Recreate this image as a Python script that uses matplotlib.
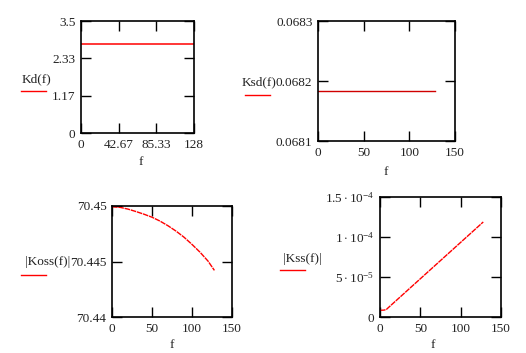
"""Mathcad-style 4 panel plot."""

import matplotlib
matplotlib.use('Agg')
import matplotlib.pyplot as plt
from matplotlib.lines import Line2D

# data
f_const = [0, 128]
kd_vals = [2.78, 2.78]
ksd_vals = [0.068183, 0.068183]

f_koss = [0, 10, 20, 30, 40, 50, 60, 70, 80, 90, 100, 110, 120, 128]
koss_vals = [70.44993, 70.44988, 70.44972, 70.44950, 70.44926, 70.44899,
             70.44864, 70.44822, 70.44774, 70.44719, 70.44654, 70.44584,
             70.44504, 70.44420]

f_kss = [0, 5, 8, 10, 20, 30, 40, 50, 60, 70, 80, 90, 100, 110, 120, 128]
kss_vals = [0.84e-5, 0.86e-5, 0.95e-5, 1.14e-5, 2.05e-5, 2.96e-5, 3.87e-5,
            4.78e-5, 5.69e-5, 6.6e-5, 7.51e-5, 8.42e-5, 9.33e-5, 1.024e-4,
            1.115e-4, 1.188e-4]

kd_xticks = [0, 42.67, 85.33, 128]
kd_yticks = [0, 1.17, 2.33, 3.5]
ksd_yticks = [0.0681, 0.0682, 0.0683]
koss_yticks = [70.44, 70.445, 70.45]
kss_yticks = [0, 5e-5, 1e-4, 1.5e-4]
kss_ylabels = ['0', r'$5\cdot10^{-5}$', r'$1\cdot10^{-4}$',
               r'$1.5\cdot10^{-4}$']
f_ticks = [0, 50, 100, 150]

W, H = 526, 353
FONT = 'Liberation Serif'
FS = 9.5


def px_rect(left, top, right, bottom):
    return [left / W, 1 - bottom / H, (right - left) / W, (bottom - top) / H]


def style(ax):
    ax.tick_params(direction='in', length=7, width=1, top=True, right=True,
                   labelsize=FS, pad=4, color='black', labelcolor='#222222')
    for sp in ax.spines.values():
        sp.set_linewidth(1.2)
    for lab in ax.get_xticklabels() + ax.get_yticklabels():
        lab.set_fontfamily(FONT)


def label(fig, text, x, y, lx0, lx1, ly):
    fig.text(x / W, 1 - y / H, text, fontsize=FS, family=FONT,
             ha='left', va='center', color='#222222')
    fig.add_artist(Line2D([lx0 / W, lx1 / W], [1 - ly / H, 1 - ly / H],
                          transform=fig.transFigure, color='red', lw=1))


def xlabel(fig, x, y):
    fig.text(x / W, 1 - y / H, 'f', fontsize=FS, family=FONT,
             ha='center', va='center', color='#222222')


def main():
    plt.rcParams['mathtext.fontset'] = 'custom'
    plt.rcParams['mathtext.rm'] = FONT
    plt.rcParams['mathtext.it'] = FONT
    fig = plt.figure(figsize=(W / 100, H / 100), dpi=100)

    # Kd
    ax = fig.add_axes(px_rect(81, 21, 194, 133))
    ax.plot(f_const, kd_vals, color='red', lw=1.1)
    ax.set_xlim(0, 128)
    ax.set_ylim(0, 3.5)
    ax.set_xticks(kd_xticks)
    ax.set_xticklabels(['0', '42.67', '85.33', '128'])
    ax.set_yticks(kd_yticks)
    ax.set_yticklabels(['0', '1.17', '2.33', '3.5'])
    style(ax)
    xlabel(fig, 141, 162)
    label(fig, 'Kd(f)', 22, 79, 21, 46, 91)

    # Ksd
    ax = fig.add_axes(px_rect(318, 21, 455, 141))
    ax.plot(f_const, ksd_vals, color='#d00000', lw=1)
    ax.set_xlim(0, 150)
    ax.set_ylim(0.0681, 0.0683)
    ax.set_xticks(f_ticks)
    ax.set_yticks(ksd_yticks)
    ax.set_yticklabels(['0.0681', '0.0682', '0.0683'])
    style(ax)
    xlabel(fig, 386, 172)
    label(fig, 'Ksd(f)', 242, 82, 245, 270, 95)

    # Koss
    ax = fig.add_axes(px_rect(112, 206, 232, 317))
    ax.plot(f_koss, koss_vals, color='red', lw=1, linestyle=(0, (4, 0.6)))
    ax.set_xlim(0, 150)
    ax.set_ylim(70.44, 70.45)
    ax.set_xticks(f_ticks)
    ax.set_yticks(koss_yticks)
    ax.set_yticklabels(['70.44', '70.445', '70.45'])
    style(ax)
    xlabel(fig, 172, 345)
    label(fig, '|Koss(f)|', 25, 262, 21, 46, 275)

    # Kss
    ax = fig.add_axes(px_rect(380, 197, 501, 317))
    ax.plot(f_kss, kss_vals, color='red', lw=1, linestyle=(0, (4, 0.6)))
    ax.set_xlim(0, 150)
    ax.set_ylim(0, 1.5e-4)
    ax.set_xticks(f_ticks)
    ax.set_yticks(kss_yticks)
    ax.set_yticklabels(kss_ylabels)
    style(ax)
    xlabel(fig, 433, 345)
    label(fig, '|Kss(f)|', 283, 259, 280, 305, 270)

    fig.savefig('out.png', dpi=100)


if __name__ == "__main__":
    main()
